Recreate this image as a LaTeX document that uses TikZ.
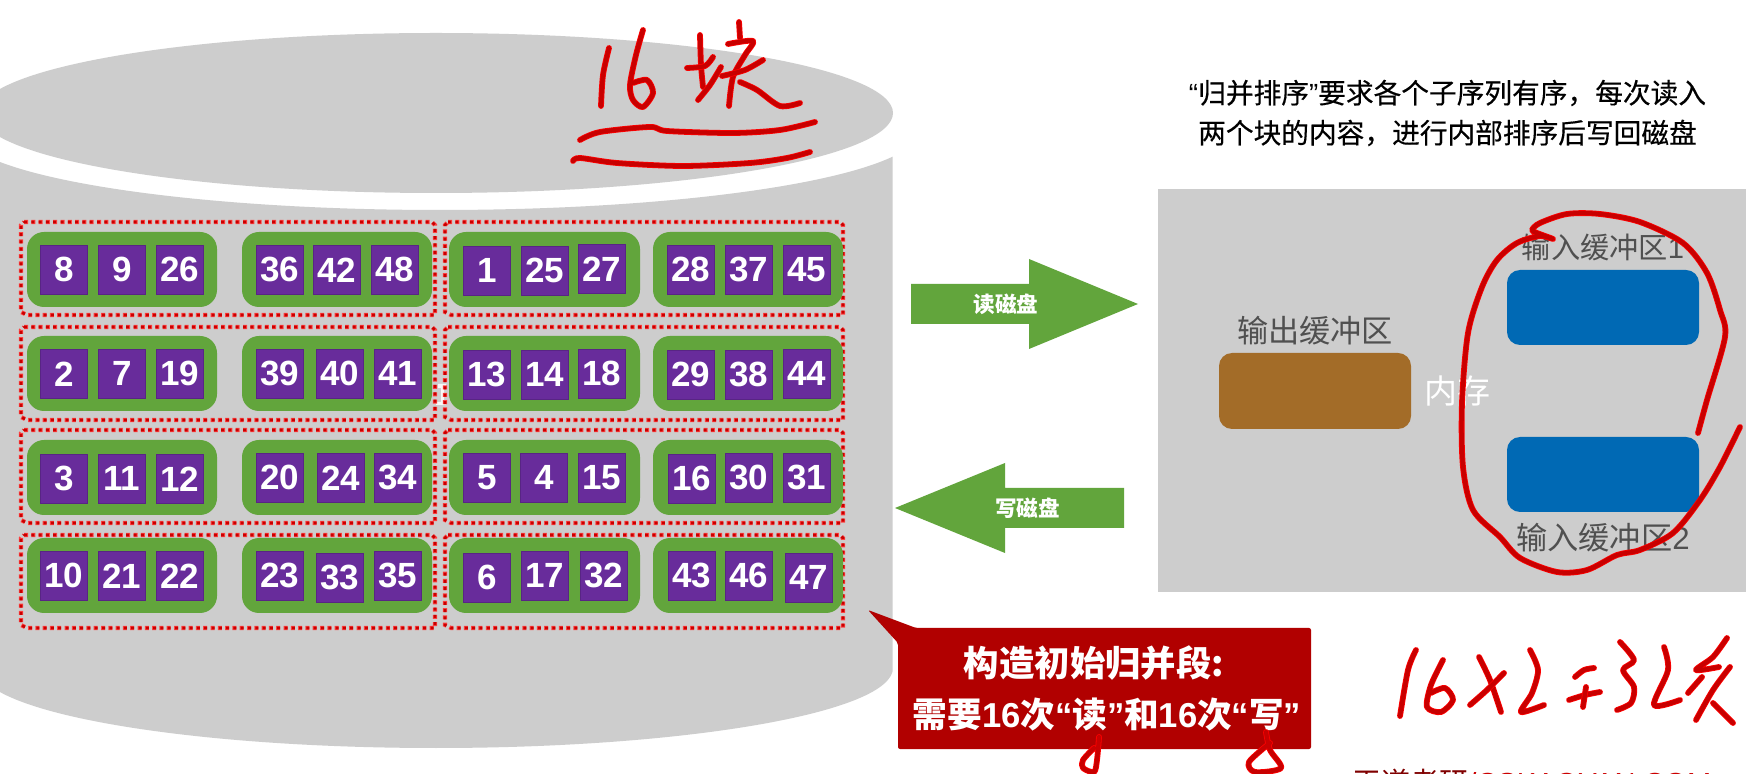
\documentclass[tikz,border=0pt]{standalone}
\usepackage{fontspec}
\setmainfont{Noto Sans CJK SC}
\newfontfamily\latf{Liberation Sans}
\newfontfamily\notef[FakeBold=0.35]{Noto Sans CJK SC}
\definecolor{disk}{HTML}{CDCDCD}
\definecolor{pill}{HTML}{62A53C}
\definecolor{purp}{HTML}{682C9B}
\definecolor{brownb}{HTML}{A36C28}
\definecolor{blueb}{HTML}{0069B4}
\definecolor{calloutr}{HTML}{B10000}
\definecolor{labelg}{HTML}{505050}
\definecolor{inkr}{HTML}{C80000}
\tikzset{
  run/.style={draw=inkr,line width=1.3pt,dash pattern=on 1.5pt off 2.15pt,sharp corners,preaction={draw=red!75,line width=2.1pt,dash pattern=on 2pt off 1.65pt}},
  pillbox/.style={fill=pill,rounded corners=8.5pt},
  cellbox/.style={fill=purp,draw=purp!85!black,line width=.4pt,text=white,inner sep=0pt,minimum width=23.5pt,minimum height=24.5pt,anchor=north west,font=\latf\bfseries\fontsize{17.5}{20}\selectfont},
  label/.style={inner sep=0pt,text=labelg,font=\fontsize{15.6}{18}\selectfont},
  ink/.style={draw=inkr,line width=2.1pt,line cap=round,line join=round,preaction={draw=red,line width=2.9pt,line cap=round,line join=round}},
  arrowt/.style={inner sep=0pt,text=white,font=\bfseries\fontsize{10.8}{13}\selectfont},
  calltxt/.style={inner sep=0pt,text=white,font=\bfseries\fontsize{17.3}{26}\selectfont}
}
\newcommand{\cellb}[3]{\node[cellbox] (c#3) at (#1,#2) {#3};}
\newcommand{\runb}[1]{%
  \draw[run] (24,#1) -- (432,#1) -- (435,#1+3) -- (435,#1+93) -- (27,#1+93) -- (21,#1+90) -- (21,#1+3) -- cycle;
  \draw[run] (448,#1) -- (840,#1) -- (843,#1+3) -- (843,#1+93) -- (451,#1+93) -- (445,#1+90) -- (445,#1+3) -- cycle;}
\newcommand{\pillrow}[1]{%
  \fill[pillbox] (27,#1) rectangle (217,#1+75);
  \fill[pillbox] (242,#1) rectangle (432,#1+75);
  \fill[pillbox] (449,#1) rectangle (640,#1+75);
  \fill[pillbox] (653,#1) rectangle (843,#1+75);}
\begin{document}
\begin{tikzpicture}[x=.5pt,y=-.5pt]
\useasboundingbox (0,0) rectangle (1746,774);
\begin{scope}
\clip (0,0) rectangle (1746,774);
\fill[white] (0,0) rectangle (1746,774);
% disk
\begin{scope}
\clip (0,0) rectangle (892.5,774);
\fill[disk] (-40,130) .. controls (-40,174.2) and (175,210) .. (440,210) .. controls (705,210) and (920,174.2) .. (920,130)
  -- (893,668) .. controls (893,712.2) and (688,748) .. (436,748) .. controls (184,748) and (-21,712.2) .. (-21,668) -- cycle;
\end{scope}
\fill[disk] (436,113) ellipse [x radius=228.5pt,y radius=40pt];
% remnant of hidden text
\fill[white,opacity=.85] (438,384) rectangle (446,388) (441,384) rectangle (444,405) (436,402) rectangle (446,405);
% runs and pills
\foreach \y in {222,327,430,535} {\runb{\y}}
\foreach \y in {232,336,440,538} {\pillrow{\y}}
\cellb{40}{245}{8}\cellb{98}{245}{9}\cellb{156}{245}{26}\cellb{256}{245}{36}\cellb{313}{245}{42}\cellb{371}{245}{48}
\cellb{463}{246}{1}\cellb{521}{246}{25}\cellb{578}{244}{27}\cellb{667}{245}{28}\cellb{725}{245}{37}\cellb{783}{245}{45}
\cellb{40}{349}{2}\cellb{98}{349}{7}\cellb{156}{349}{19}\cellb{256}{349}{39}\cellb{316}{349}{40}\cellb{374}{349}{41}
\cellb{463}{350}{13}\cellb{521}{350}{14}\cellb{578}{349}{18}\cellb{667}{350}{29}\cellb{725}{350}{38}\cellb{783}{349}{44}
\cellb{40}{454}{3}\cellb{98}{454}{11}\cellb{156}{454}{12}\cellb{256}{453}{20}\cellb{317}{453}{24}\cellb{374}{453}{34}
\cellb{463}{453}{5}\cellb{520}{453}{4}\cellb{578}{453}{15}\cellb{668}{454}{16}\cellb{725}{453}{30}\cellb{783}{453}{31}
\cellb{40}{551}{10}\cellb{98}{551}{21}\cellb{156}{551}{22}\cellb{256}{551}{23}\cellb{316}{553}{33}\cellb{374}{551}{35}
\cellb{463}{553}{6}\cellb{521}{551}{17}\cellb{580}{551}{32}\cellb{668}{551}{43}\cellb{725}{551}{46}\cellb{785}{553}{47}
% arrows
\fill[pill] (911,284) -- (1029,284) -- (1029,259) -- (1138,304) -- (1029,349) -- (1029,324) -- (911,324) -- cycle;
\node[arrowt] (readt) at (1006,304) {读磁盘};
\fill[pill] (1124,488) -- (1005,488) -- (1005,463) -- (895,508) -- (1005,553) -- (1005,528) -- (1124,528) -- cycle;
\node[arrowt] (writet) at (1027.5,508) {写磁盘};
% memory
\fill[disk] (1158,189) rectangle (1746,592);
\fill[brownb,rounded corners=6.5pt] (1219,353) rectangle (1411,429);
\fill[blueb,rounded corners=6.5pt] (1507,270) rectangle (1699,345);
\fill[blueb,rounded corners=6.5pt] (1507,437) rectangle (1699,512);
\node[label] (outl) at (1315,331) {输出缓冲区};
\node[label,font=\fontsize{14.6}{18}\selectfont] (in1) at (1603,247) {输入缓冲区\latf 1};
\node[label] (in2) at (1603,538) {输入缓冲区\latf 2};
\node[label,text=white,font=\fontsize{16.5}{20}\selectfont] (mem) at (1457,391) {内存};
% note
\node[inner sep=0pt,align=center,font=\notef\fontsize{13.85}{20}\selectfont,text=black] (note) at (1447.5,113)
  {{\latf “}归并排序{\latf ”}要求各个子序列有序，每次读入\\两个块的内容，进行内部排序后写回磁盘};
% callout
\fill[calloutr,rounded corners=1pt] (868,610) -- (916,628) -- (1311,628) -- (1311,749) -- (898,749) -- (898,643) -- cycle;
\node[calltxt,font=\bfseries\fontsize{17.7}{26}\selectfont] (call1) at (1094,663) {构造初始归并段:};
\node[calltxt] (call2) at (1107,715) {需要{\latf 16}次{\latf “}读{\latf ”}和{\latf 16}次{\latf “}写{\latf ”}};
% watermark cut by the edge
\node[inner sep=0pt,anchor=base west,font=\fontsize{14.5}{18}\selectfont,text=red!50!black] (wm) at (1352,793) {王道考研\textcolor{red!80!black}{\latf /CSKAOYAN.COM}};
% handwriting
\draw[ink] plot[smooth] coordinates {(609,48) (603,75) (601,106)};
\draw[ink] plot[smooth] coordinates {(643,30) (636,55) (630,85) (633,100) (643,107) (653,93) (647,80) (633,83)};
\draw[ink] plot[smooth] coordinates {(700,35) (701,65) (703,87)};
\draw[ink] plot[smooth] coordinates {(687,68) (705,66) (713,57)};
\draw[ink] plot[smooth] coordinates {(721,67) (710,85) (698,100)};
\draw[ink] plot[smooth] coordinates {(739,22) (740,38)};
\draw[ink] plot[smooth] coordinates {(728,44) (753,41) (745,55) (733,77) (729,106)};
\draw[ink] plot[smooth] coordinates {(763,60) (745,70) (722,76)};
\draw[ink] plot[smooth] coordinates {(740,82) (757,90) (780,106) (800,103)};
\draw[ink] plot[smooth] coordinates {(580,140) (600,132) (650,127) (667,131) (733,133) (780,130) (815,122)};
\draw[ink] plot[smooth] coordinates {(573,161) (580,158) (617,163) (683,166) (750,163) (787,158) (810,152)};
\draw[ink] plot[smooth] coordinates {(1698,433) (1707,400) (1725,337) (1720,310) (1707,273) (1683,243) (1640,222) (1600,214) (1567,214) (1540,223) (1532,230) (1537,233) (1553,239) (1540,236) (1517,243) (1497,260) (1482,287) (1468,333) (1462,403) (1463,467) (1473,510) (1500,537) (1520,558) (1557,572) (1587,570) (1617,555) (1640,550) (1673,533) (1700,500) (1720,467) (1740,427)};
\draw[ink] plot[smooth] coordinates {(1416,650) (1408,670) (1400,716)};
\draw[ink] plot[smooth] coordinates {(1443,660) (1431,685) (1427,707) (1441,712) (1453,700) (1445,688) (1431,693)};
\draw[ink] plot[smooth] coordinates {(1479,657) (1490,680) (1501,712)};
\draw[ink] plot[smooth] coordinates {(1504,673) (1487,690) (1470,705)};
\draw[ink] plot[smooth] coordinates {(1530,650) (1538,670) (1532,693) (1521,712) (1544,705)};
\draw[ink] plot[smooth] coordinates {(1575,677) (1584,670) (1594,668)};
\draw[ink] plot[smooth] coordinates {(1569,700) (1585,695) (1600,692)};
\draw[ink] plot[smooth] coordinates {(1586,687) (1583,707)};
\draw[ink] plot[smooth] coordinates {(1620,642) (1634,660) (1623,670) (1634,687) (1631,703) (1617,710)};
\draw[ink] plot[smooth] coordinates {(1664,647) (1668,670) (1654,705) (1680,700)};
\draw[ink] plot[smooth] coordinates {(1727,638) (1713,657) (1696,670) (1719,667)};
\draw[ink] plot[smooth] coordinates {(1702,677) (1688,693)};
\draw[ink] plot[smooth] coordinates {(1730,667) (1713,690) (1696,720)};
\draw[ink] plot[smooth] coordinates {(1713,703) (1733,723)};
\draw[ink] plot[smooth] coordinates {(1099,737) (1097,760) (1094,772) (1083,768) (1083,760) (1094,748)};
\draw[ink] plot[smooth] coordinates {(1266,732) (1270,750) (1281,768) (1255,772) (1249,762) (1270,743)};
\end{scope}
\end{tikzpicture}
\end{document}
